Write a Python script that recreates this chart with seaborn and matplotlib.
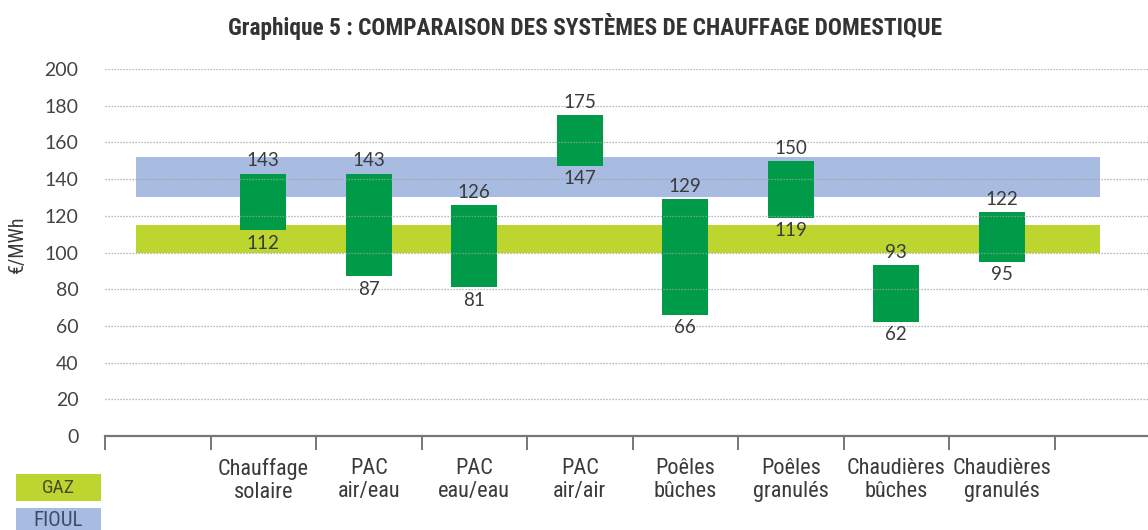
import matplotlib
matplotlib.use("Agg")
import matplotlib.pyplot as plt
from matplotlib.patches import Rectangle
from matplotlib.ticker import FixedLocator, NullFormatter
from matplotlib import font_manager
import seaborn as sns
import pandas as pd

# --- data -------------------------------------------------------------
categories = [
    "Chauffage\nsolaire",
    "PAC\nair/eau",
    "PAC\neau/eau",
    "PAC\nair/air",
    "Poêles\nbûches",
    "Poêles\ngranulés",
    "Chaudières\nbûches",
    "Chaudières\ngranulés",
]
cost_high = [143, 143, 126, 175, 129, 150, 93, 122]
cost_low = [112, 87, 81, 147, 66, 119, 62, 95]
gaz_range = [100, 115]
fioul_range = [130, 152]
y_ticks = [0, 20, 40, 60, 80, 100, 120, 140, 160, 180, 200]

# --- style ------------------------------------------------------------
sns.set_theme(style="white")
installed = {f.name for f in font_manager.fontManager.ttflist}
narrow_pref = ["Roboto Condensed", "Liberation Sans Narrow", "Open Sans Condensed",
               "Roboto"]
NARROW = [f for f in narrow_pref if f in installed] + ["DejaVu Sans"]
NUM = ["Lato", "DejaVu Sans"]
plt.rcParams["font.family"] = NUM

BAR = "#009B48"
GAZ = "#BDD62F"
FIOUL = "#A8BCE2"
TXT = "#3a3a3a"

W, H = 1148, 530
fig = plt.figure(figsize=(W / 100, H / 100), dpi=100)
ax = fig.add_axes([105 / W, (H - 436) / H, 1 - 105 / W, (436 - 69) / H])

# empty slots on both ends of the category axis
order = [" "] + categories + ["  "]
df = pd.DataFrame({
    "systeme": categories,
    "ecart": [h - l for h, l in zip(cost_high, cost_low)],
})
sns.barplot(data=df, x="systeme", y="ecart", order=order, color=BAR,
            saturation=1, width=0.44, ax=ax, zorder=2)

# lift each bar so it floats between the low and high cost
for patch in ax.patches:
    cx = patch.get_x() + patch.get_width() / 2
    idx = int(round(cx)) - 1
    if 0 <= idx < len(categories):
        patch.set_y(cost_low[idx])
        patch.set_height(cost_high[idx] - cost_low[idx])
        patch.set_edgecolor("none")

x_left, x_right = -0.5, -0.5 + (W - 105) / 105.5
band_x = [-0.5 + 31 / 105.5, -0.5 + 995 / 105.5]
ax.fill_between(band_x, fioul_range[0], fioul_range[1], color=FIOUL,
                lw=0, zorder=1)
ax.fill_between(band_x, gaz_range[0], gaz_range[1], color=GAZ,
                lw=0, zorder=1)

# value labels at both ends of each bar
for i, (hi, lo) in enumerate(zip(cost_high, cost_low)):
    ax.annotate(f"{hi}", (i + 1, hi), xytext=(0, 3), textcoords="offset points",
                ha="center", va="bottom", fontsize=13.5, color=TXT, zorder=5)
    ax.annotate(f"{lo}", (i + 1, lo), xytext=(0, -3), textcoords="offset points",
                ha="center", va="top", fontsize=13.5, color=TXT, zorder=5)

ax.set_xlim(x_left, x_right)
ax.set_ylim(0, 200)
ax.set_yticks(y_ticks)
ax.set_yticklabels([str(v) for v in y_ticks], fontsize=14, color="#444444")
ax.tick_params(axis="y", length=0, pad=19)

ax.set_xticks(range(1, len(categories) + 1))
ax.set_xticklabels(categories, fontsize=16, color=TXT, family=NARROW,
                   linespacing=1.1)
ax.tick_params(axis="x", which="major", length=0, pad=16)
ax.xaxis.set_minor_locator(FixedLocator([k - 0.5 for k in range(len(order))]))
ax.xaxis.set_minor_formatter(NullFormatter())
ax.tick_params(axis="x", which="minor", length=10, width=1.4,
               color="#777777", direction="out", bottom=True)

ax.set_xlabel("")
ax.set_ylabel("€/MWh", fontsize=14.5, color=TXT, family=NARROW)
ax.yaxis.set_label_coords(-78 / (W - 105), (436 - 244) / (436 - 69))

ax.grid(axis="y", linestyle=(0, (1, 1.4)), linewidth=0.9, color="#a0a0a0")
ax.grid(axis="x", visible=False)
ax.set_axisbelow(False)
for side in ("left", "right", "top"):
    ax.spines[side].set_visible(False)
ax.spines["bottom"].set_color("#777777")
ax.spines["bottom"].set_linewidth(1.6)
ax.spines["bottom"].set_zorder(6)
# hide the dotted line at zero under the axis line
ax.get_ygridlines()[0].set_visible(False)

fig.text(585 / W, 1 - 27 / H,
         "Graphique 5 : COMPARAISON DES SYSTÈMES DE CHAUFFAGE DOMESTIQUE",
         ha="center", va="center", fontsize=16.8, fontweight="semibold",
         color="#333333", family=NARROW)

# legend swatches in the lower left corner
fig.patches.append(Rectangle((16 / W, (H - 501) / H), 85 / W, 27 / H,
                             transform=fig.transFigure, color=GAZ, lw=0))
fig.text(58 / W, 1 - 488 / H, "GAZ", ha="center", va="center",
         fontsize=14, color="#4a4a2a", family=NARROW)
fig.patches.append(Rectangle((16 / W, -0.01), 85 / W, (H - 508) / H + 0.01,
                             transform=fig.transFigure, color=FIOUL, lw=0))
fig.text(58 / W, 1 - 521 / H, "FIOUL", ha="center", va="center",
         fontsize=15, color="#3c4a6a", family=NARROW)

fig.savefig("out.png", dpi=100)
